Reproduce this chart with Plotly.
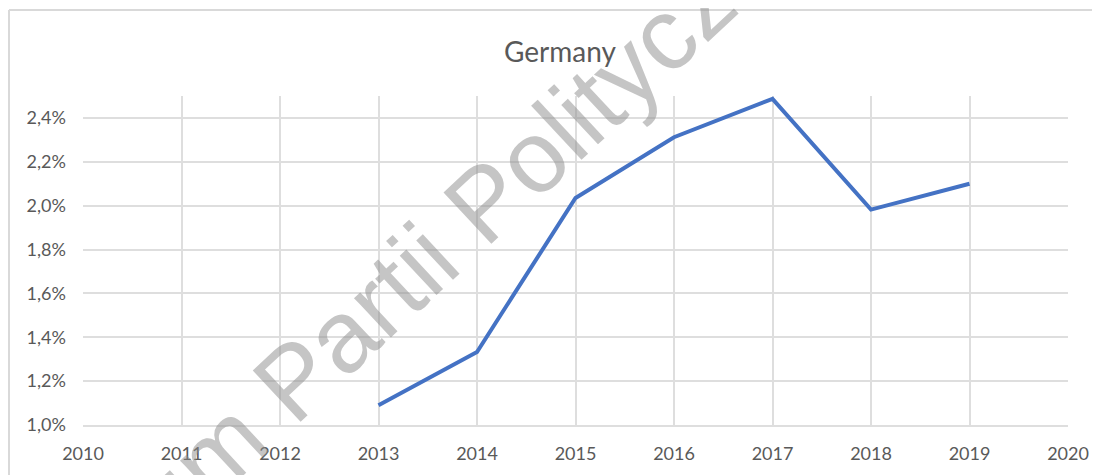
import plotly.graph_objects as go

years = [2013, 2014, 2015, 2016, 2017, 2018, 2019]
share = [0.0109, 0.01333, 0.02035, 0.02312, 0.02487, 0.01982, 0.0210]
x_ticks = list(range(2010, 2021))

# the page puts the figure 8px in from the top-left corner
OFF = 8
W, H = 1100 - OFF, 475 - OFF
L, R, T, B = 83 - OFF, 32, 96 - OFF, 50
PW, PH = W - L - R, H - T - B

fig = go.Figure()
fig.add_trace(go.Scatter(x=years, y=share, mode="lines",
                         line=dict(color="#4472C4", width=4), showlegend=False))

grid = "#dedede"
fig.update_layout(
    width=W, height=H,
    margin=dict(l=L, r=R, t=T, b=B, autoexpand=False),
    paper_bgcolor="white", plot_bgcolor="white",
    separators=",.",
    font=dict(family="Lato, Liberation Sans, sans-serif", color="#595959", size=18),
    xaxis=dict(range=[2010, 2020], tickvals=x_ticks, ticktext=[str(v) for v in x_ticks],
               showgrid=True, gridcolor=grid, gridwidth=2, zeroline=False,
               showline=True, linecolor=grid, linewidth=2, ticks="", ticklen=0,
               ticklabelstandoff=11, automargin=False),
    yaxis=dict(range=[0.010, 0.0250], tick0=0.010, dtick=0.002, tickformat=".1%",
               showgrid=True, gridcolor=grid, gridwidth=2, zeroline=False,
               showline=False, ticks="", ticklabelstandoff=16, automargin=False),
)

fig.add_annotation(text="Germany", xref="paper", yref="paper",
                   x=(560 - 83) / PW, y=1 + (96 - 51) / PH,
                   xanchor="center", yanchor="middle",
                   showarrow=False, font=dict(size=28, color="#595959"))

# frame of the chart area: only its top and left edges are in view
fx0, fy1 = -(83 - 9) / PW, 1 + (96 - 10) / PH
fig.add_shape(type="line", xref="paper", yref="paper", x0=fx0, x1=1.2, y0=fy1, y1=fy1,
              line=dict(color="#d9d9d9", width=2), layer="below")
fig.add_shape(type="line", xref="paper", yref="paper", x0=fx0, x1=fx0, y0=-0.5, y1=fy1,
              line=dict(color="#d9d9d9", width=2), layer="below")

# watermark
fig.add_annotation(text="Forum Partii Politycznych", xref="paper", yref="paper",
                   x=(455 - 83) / PW, y=1 - (230 - 96) / PH,
                   xanchor="center", yanchor="middle",
                   showarrow=False, textangle=-43,
                   font=dict(size=102, color="rgba(140,140,140,0.5)",
                             family="Liberation Sans, Arial, sans-serif"))

fig.write_html("out.html")
